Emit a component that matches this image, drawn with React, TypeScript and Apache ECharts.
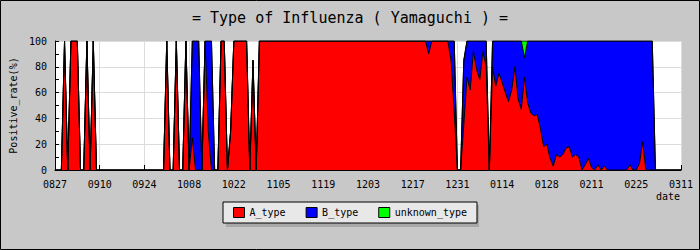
import React, { useEffect, useRef } from "react";
import * as echarts from "echarts";

const FONT = '"DejaVu Sans Mono", "Liberation Mono", monospace';

// Daily categories, 2008-08-27 .. 2009-03-11 (label format MMDD)
function buildDates(): string[] {
  const out: string[] = [];
  const d = new Date(2008, 7, 27);
  const end = new Date(2009, 2, 11);
  while (d.getTime() <= end.getTime()) {
    const mm = String(d.getMonth() + 1).padStart(2, "0");
    const dd = String(d.getDate()).padStart(2, "0");
    out.push(mm + dd);
    d.setDate(d.getDate() + 1);
  }
  return out;
}
const dates: string[] = buildDates();

const tickLabels: string[] = [
  "0827", "0910", "0924", "1008", "1022", "1105", "1119", "1203",
  "1217", "1231", "0114", "0128", "0211", "0225", "0311",
];

const seriesNames: string[] = ["A_type", "B_type", "unknown_type"];
const seriesColors: string[] = ["#ff0000", "#0000ff", "#00ff00"];

// A_type positive rate (%) per day
const aType: number[] = [
  0, 0, 0, 100, 0, 100, 100, 100, 0, 0,
  100, 0, 100, 0, 0, 0, 0, 0, 0, 0,
  0, 0, 0, 0, 0, 0, 0, 0, 0, 0,
  0, 0, 0, 0, 0, 100, 0, 0, 100, 0,
  0, 100, 0, 25, 0, 0, 0, 100, 30, 0,
  0, 0, 100, 100, 0, 30, 100, 100, 100, 100,
  100, 0, 85, 0, 100, 100, 100, 100, 100, 100,
  100, 100, 100, 100, 100, 100, 100, 100, 100, 100,
  100, 100, 100, 100, 100, 100, 100, 100, 100, 100,
  100, 100, 100, 100, 100, 100, 100, 100, 100, 100,
  100, 100, 100, 100, 100, 100, 100, 100, 100, 100,
  100, 100, 100, 100, 100, 100, 100, 90, 100, 100,
  100, 100, 100, 100, 85, 45, 0, 0, 35, 72,
  62, 92, 78, 70, 92, 80, 0, 80, 65, 75,
  68, 60, 53, 62, 80, 55, 47, 72, 52, 44,
  42, 43, 32, 18, 20, 9, 3, 12, 10, 12,
  17, 18, 10, 12, 10, 0, 4, 9, 2, 0,
  4, 0, 3, 0, 0, 0, 0, 0, 0, 0,
  4, 0, 0, 5, 22, 0, 0, 0, 0, 0,
  0, 0, 0, 0, 0, 0, 0,
];

// B_type positive rate (%) per day
const bType: number[] = [
  0, 0, 0, 0, 0, 0, 0, 0, 0, 0,
  0, 0, 0, 0, 0, 0, 0, 0, 0, 0,
  0, 0, 0, 0, 0, 0, 0, 0, 0, 0,
  0, 0, 0, 0, 0, 0, 0, 0, 0, 0,
  0, 0, 0, 75, 100, 100, 0, 0, 70, 100,
  0, 0, 0, 0, 0, 0, 0, 0, 0, 0,
  0, 0, 0, 0, 0, 0, 0, 0, 0, 0,
  0, 0, 0, 0, 0, 0, 0, 0, 0, 0,
  0, 0, 0, 0, 0, 0, 0, 0, 0, 0,
  0, 0, 0, 0, 0, 0, 0, 0, 0, 0,
  0, 0, 0, 0, 0, 0, 0, 0, 0, 0,
  0, 0, 0, 0, 0, 0, 0, 10, 0, 0,
  0, 0, 0, 0, 15, 55, 0, 0, 50, 28,
  38, 8, 22, 30, 8, 20, 0, 20, 35, 25,
  32, 40, 47, 38, 20, 45, 53, 15, 48, 56,
  58, 57, 68, 82, 80, 91, 97, 88, 90, 88,
  83, 82, 90, 88, 90, 100, 96, 91, 98, 100,
  96, 100, 97, 100, 100, 100, 100, 100, 100, 100,
  96, 100, 100, 95, 78, 100, 100, 100, 0, 0,
  0, 0, 0, 0, 0, 0, 0,
];

// unknown_type positive rate (%) per day
const unknownType: number[] = [
  0, 0, 0, 0, 0, 0, 0, 0, 0, 0,
  0, 0, 0, 0, 0, 0, 0, 0, 0, 0,
  0, 0, 0, 0, 0, 0, 0, 0, 0, 0,
  0, 0, 0, 0, 0, 0, 0, 0, 0, 0,
  0, 0, 0, 0, 0, 0, 0, 0, 0, 0,
  0, 0, 0, 0, 0, 0, 0, 0, 0, 0,
  0, 0, 0, 0, 0, 0, 0, 0, 0, 0,
  0, 0, 0, 0, 0, 0, 0, 0, 0, 0,
  0, 0, 0, 0, 0, 0, 0, 0, 0, 0,
  0, 0, 0, 0, 0, 0, 0, 0, 0, 0,
  0, 0, 0, 0, 0, 0, 0, 0, 0, 0,
  0, 0, 0, 0, 0, 0, 0, 0, 0, 0,
  0, 0, 0, 0, 0, 0, 0, 0, 0, 0,
  0, 0, 0, 0, 0, 0, 0, 0, 0, 0,
  0, 0, 0, 0, 0, 0, 0, 13, 0, 0,
  0, 0, 0, 0, 0, 0, 0, 0, 0, 0,
  0, 0, 0, 0, 0, 0, 0, 0, 0, 0,
  0, 0, 0, 0, 0, 0, 0, 0, 0, 0,
  0, 0, 0, 0, 0, 0, 0, 0, 0, 0,
  0, 0, 0, 0, 0, 0, 0,
];

const seriesData: number[][] = [aType, bType, unknownType];

export default function App() {
  const ref = useRef<HTMLDivElement>(null);

  useEffect(() => {
    if (!ref.current) return;
    const chart = echarts.init(ref.current, undefined, { renderer: "svg" });
    const showTick = (_i: number, v: string) => tickLabels.includes(v);

    const option: any = {
      animation: false,
      backgroundColor: "#c8c8c8",
      title: {
        text: "= Type of Influenza ( Yamaguchi ) =",
        left: "center",
        top: 5,
        textStyle: { fontFamily: FONT, fontSize: 15, fontWeight: "normal", color: "#000" },
      },
      grid: {
        left: 50,
        right: 19,
        top: 41,
        bottom: 80,
        show: true,
        backgroundColor: "#ffffff",
        borderWidth: 0,
      },
      legend: {
        left: 223,
        top: 202,
        orient: "horizontal",
        icon: "rect",
        itemWidth: 11,
        itemHeight: 10,
        itemGap: 20,
        padding: [5, 10, 5, 10],
        backgroundColor: "#e8e8e8",
        borderColor: "#000",
        borderWidth: 1,
        borderRadius: 0,
        z: 10,
        textStyle: { fontFamily: FONT, fontSize: 10, color: "#000" },
        data: seriesNames.map((n, i) => ({
          name: n,
          itemStyle: { color: seriesColors[i], borderColor: "#000", borderWidth: 1 },
        })),
      },
      xAxis: {
        type: "category",
        data: dates,
        boundaryGap: false,
        axisLine: { lineStyle: { color: "#000", width: 1 } },
        axisTick: { inside: true, length: 5, interval: showTick, lineStyle: { color: "#000" } },
        axisLabel: {
          interval: showTick,
          margin: 9,
          fontFamily: FONT,
          fontSize: 10,
          color: "#000",
        },
        splitLine: { show: true, interval: showTick, lineStyle: { color: "#dcdcdc", width: 1 } },
      },
      yAxis: {
        type: "value",
        min: 0,
        max: 100,
        interval: 20,
        name: "Positive_rate(%)",
        nameLocation: "middle",
        nameGap: 23,
        nameTextStyle: { fontFamily: FONT, fontSize: 10, color: "#000" },
        axisLine: { show: true, lineStyle: { color: "#000", width: 1 } },
        axisTick: { show: true, inside: true, length: 4, lineStyle: { color: "#000" } },
        minorTick: { show: true, splitNumber: 2, length: 4, lineStyle: { color: "#000" } },
        axisLabel: { margin: 8, fontFamily: FONT, fontSize: 10, color: "#000" },
        splitLine: { show: true, lineStyle: { color: "#dcdcdc", width: 1 } },
      },
      graphic: [
        {
          type: "rect",
          z: 1,
          shape: { x: 226, y: 205, width: 253, height: 22 },
          style: { fill: "#a8a8a8" },
          silent: true,
        },
        {
          type: "text",
          x: 680,
          y: 191,
          z: 5,
          style: {
            text: "date",
            fill: "#000",
            fontFamily: FONT,
            fontSize: 10,
            align: "right",
            verticalAlign: "top",
          },
          silent: true,
        },
        {
          type: "rect",
          z: 20,
          shape: { x: 0.5, y: 0.5, width: 699, height: 249 },
          style: { fill: "transparent", stroke: "#000", lineWidth: 1 },
          silent: true,
        },
      ],
      series: seriesNames.map((n, i) => ({
        name: n,
        type: "line",
        stack: "total",
        data: seriesData[i],
        symbol: "none",
        showSymbol: false,
        silent: true,
        emphasis: { disabled: true },
        itemStyle: { color: seriesColors[i] },
        lineStyle: { color: "#000", width: 1 },
        areaStyle: { color: seriesColors[i], opacity: 1 },
      })),
    };

    chart.setOption(option);
    return () => {
      chart.dispose();
    };
  }, []);

  return (
    <div
      ref={ref}
      style={{ position: "fixed", left: 0, top: 0, width: 700, height: 250 }}
    />
  );
}
